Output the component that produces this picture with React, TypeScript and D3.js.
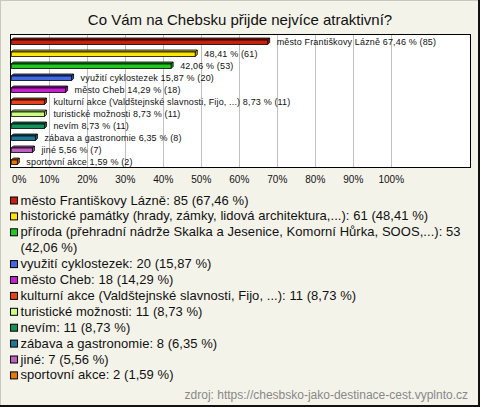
import React from "react";
import * as d3 from "d3";

const title = "Co Vám na Chebsku přijde nejvíce atraktivní?";
const categories = [
  "město Františkovy Lázně",
  "historické památky (hrady, zámky, lidová architektura,...)",
  "příroda (přehradní nádrže Skalka a Jesenice, Komorní Hůrka, SOOS,...)",
  "využití cyklostezek",
  "město Cheb",
  "kulturní akce (Valdštejnské slavnosti, Fijo, ...)",
  "turistické možnosti",
  "nevím",
  "zábava a gastronomie",
  "jiné",
  "sportovní akce",
];
const counts = [85, 61, 53, 20, 18, 11, 11, 11, 8, 7, 2];
const percents = [67.46, 48.41, 42.06, 15.87, 14.29, 8.73, 8.73, 8.73, 6.35, 5.56, 1.59];
const showNameInBarLabel = [true, false, false, true, true, true, true, true, true, true, true];
const colors = [
  "#c8200e", "#ffe600", "#22c822", "#4169e1", "#c81ed2", "#e8401a",
  "#ccff80", "#14905a", "#1e7896", "#c060c0", "#e87800",
];
const ticks = [0, 10, 20, 30, 40, 50, 60, 70, 80, 90, 100];
const source = "zdroj: https://chesbsko-jako-destinace-cest.vyplnto.cz";

const fmt = (v: number) => v.toFixed(2).replace(".", ",");
const FONT = "'Liberation Sans', Arial, sans-serif";

function wrap(text: string, maxW: number, font: string): string[] {
  const c = document.createElement("canvas").getContext("2d")!;
  c.font = font;
  const words = text.split(" ");
  const lines: string[] = [];
  let cur = "";
  for (const w of words) {
    const t = cur ? cur + " " + w : w;
    if (c.measureText(t).width > maxW && cur) {
      lines.push(cur);
      cur = w;
    } else cur = t;
  }
  if (cur) lines.push(cur);
  return lines;
}

export default function App() {
  const W = 480, H = 407;
  const plot = { left: 10.5, right: 470.5, top: 34.5, bottom: 167.5 };
  const x = d3.scaleLinear().domain([0, 100]).range([11.3, 391.3]);
  const y = d3.scaleBand<string>().domain(categories).range([35, 167]);
  const depth = 2;

  const legendLines: { text: string; color: string | null }[] = [];
  categories.forEach((c, i) => {
    const full = `${c}: ${counts[i]} (${fmt(percents[i])} %)`;
    const lines = wrap(full, 442, `13px ${FONT}`);
    lines.forEach((l, j) => legendLines.push({ text: l, color: j === 0 ? colors[i] : null }));
  });
  const lb0 = 204.5, lh = 15.9;

  return (
    <svg width={W} height={H} style={{ position: "absolute", left: 0, top: 0 }} fontFamily={FONT}>
      <rect x={0} y={0} width={W} height={H} fill="#f4f3ea" />
      <line x1={0.5} y1={0} x2={0.5} y2={H} stroke="#c8c8c0" />
      <line x1={0} y1={0.5} x2={W} y2={0.5} stroke="#c8c8c0" />
      <line x1={W - 1} y1={0} x2={W - 1} y2={H} stroke="#111" strokeWidth={2} />
      <line x1={0} y1={H - 1} x2={W} y2={H - 1} stroke="#111" strokeWidth={2} />

      <text x={W / 2} y={24.5} textAnchor="middle" fontSize={15} fill="#111">{title}</text>

      <rect x={plot.left} y={plot.top} width={plot.right - plot.left} height={plot.bottom - plot.top} fill="#fff" />
      {ticks.slice(1).map((t) => (
        <line key={t} x1={Math.round(x(t)) + 0.5} x2={Math.round(x(t)) + 0.5} y1={plot.top} y2={plot.bottom} stroke="#c0c0c0" />
      ))}
      <rect x={plot.left} y={plot.top} width={plot.right - plot.left} height={plot.bottom - plot.top} fill="none" stroke="#000" />

      {categories.map((c, i) => {
        const x0 = x(0), x1 = x(percents[i]);
        const yt = (y(c) as number) + 5, yb = yt + 4.5;
        const col = d3.color(colors[i])!;
        const dark = col.darker(0.6).toString();
        const label = (showNameInBarLabel[i] ? c + " " : "") + `${fmt(percents[i])} % (${counts[i]})`;
        return (
          <g key={c} stroke="#000" strokeWidth={0.8} strokeLinejoin="round">
            <path d={`M${x0},${yt}L${x0 + depth},${yt - depth}L${x1 + depth},${yt - depth}L${x1},${yt}Z`} fill={dark} />
            <path d={`M${x1},${yt}L${x1 + depth},${yt - depth}L${x1 + depth},${yb - depth}L${x1},${yb}Z`} fill={dark} />
            <rect x={x0} y={yt} width={x1 - x0} height={yb - yt} fill={colors[i]} />
            <text x={x1 + depth + 7} y={(y(c) as number) + 9.8} fontSize={9} letterSpacing={0.15} fill="#111" stroke="none">{label}</text>
          </g>
        );
      })}

      {ticks.map((t) => (
        <text key={t} x={t === 0 ? 12 : x(t)} y={183} fontSize={10} textAnchor={t === 0 ? "start" : "middle"} fill="#111">{t}%</text>
      ))}

      {legendLines.map((l, k) => (
        <g key={k}>
          {l.color && <rect x={10.5} y={lb0 + k * lh - 7.5} width={7} height={7} fill={l.color} stroke="#000" />}
          <text x={20.5} y={lb0 + k * lh} fontSize={13} letterSpacing={0.05} fill="#111">{l.text}</text>
        </g>
      ))}

      <text x={468} y={399} textAnchor="end" fontSize={12} fill="#888">{source}</text>
    </svg>
  );
}
